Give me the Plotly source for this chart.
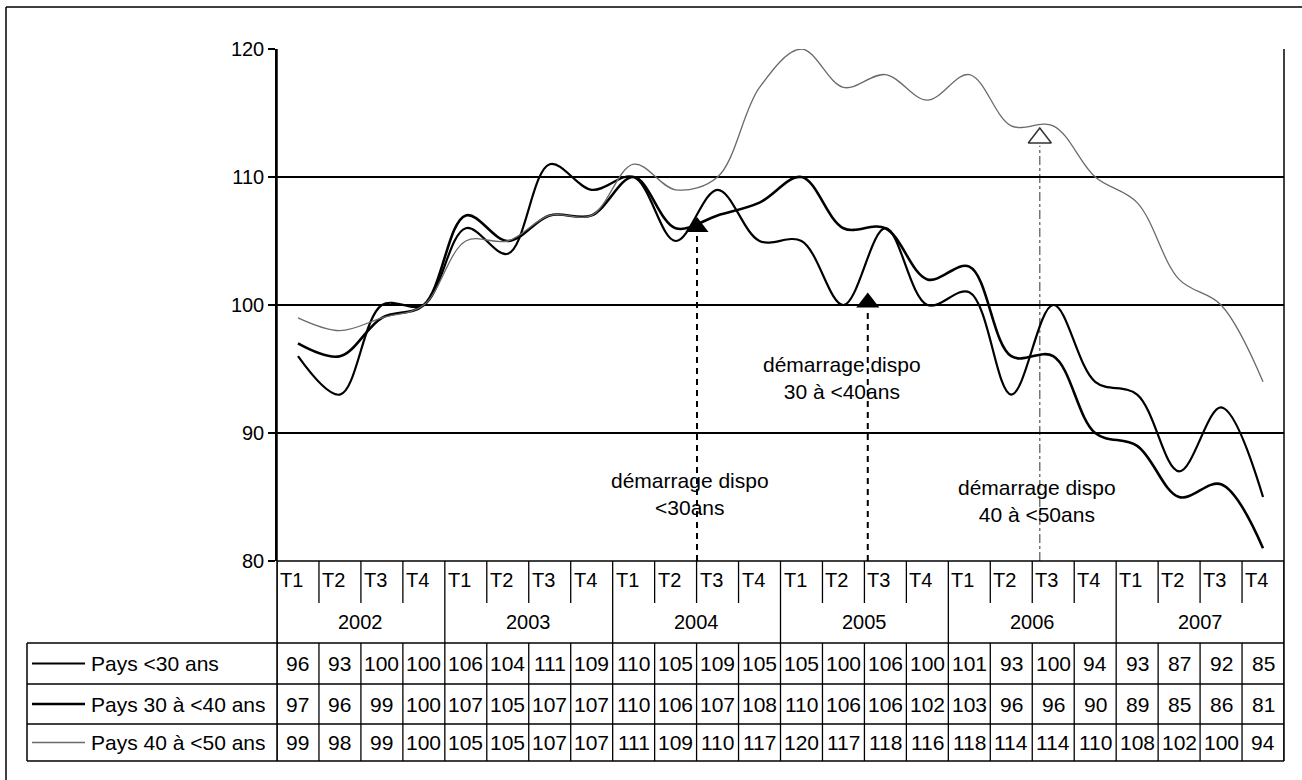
import plotly.graph_objects as go

# ---------------- data ----------------
quarters = ["T1", "T2", "T3", "T4"] * 6
years = ["2002", "2003", "2004", "2005", "2006", "2007"]
series_names = ["Pays <30 ans", "Pays 30 à <40 ans", "Pays 40 à <50 ans"]
under30 = [96, 93, 100, 100, 106, 104, 111, 109, 110, 105, 109, 105,
           105, 100, 106, 100, 101, 93, 100, 94, 93, 87, 92, 85]
age30_40 = [97, 96, 99, 100, 107, 105, 107, 107, 110, 106, 107, 108,
            110, 106, 106, 102, 103, 96, 96, 90, 89, 85, 86, 81]
age40_50 = [99, 98, 99, 100, 105, 105, 107, 107, 111, 109, 110, 117,
            120, 117, 118, 116, 118, 114, 114, 110, 108, 102, 100, 94]
y_ticks = [80, 90, 100, 110, 120]

# annotation markers (category position, value)
arrow_x = [9.51, 13.58, 17.68]
arrow_y = [106.1, 100.2, 113.05]
arrow_text = ["démarrage dispo<br><30ans",
              "démarrage dispo<br>30 à <40ans",
              "démarrage dispo<br>40 à <50ans"]

# ---------------- layout helpers ----------------
W, H = 1302, 780
PL, PR, PT, PB = 277, 1284, 49, 561          # plot area in pixels
FONT = "Liberation Sans, Arial, sans-serif"


def px(x):
    return x / W


def py(y):
    return 1 - y / H


values = [under30, age30_40, age40_50]
styles = [dict(color="black", width=2.2),
          dict(color="black", width=2.6),
          dict(color="#6a6a6a", width=1.3)]

fig = go.Figure()
idx = list(range(len(quarters)))
for name, vals, st in zip(series_names, values, styles):
    fig.add_trace(go.Scatter(
        x=idx, y=vals, mode="lines", name=name,
        line=dict(color=st["color"], width=st["width"], shape="spline", smoothing=1.0),
        showlegend=False, hoverinfo="skip"))

shapes = []
annotations = []

# dashed guide lines from axis to markers
dash_styles = [dict(color="black", width=2, dash="6px,5px"),
               dict(color="black", width=2, dash="6px,5px"),
               dict(color="#555555", width=1.2, dash="dashdot")]
for ax_, ay_, ds in zip(arrow_x, arrow_y, dash_styles):
    shapes.append(dict(type="line", xref="x", yref="y", x0=ax_, x1=ax_,
                       y0=80, y1=ay_ - 0.6, line=ds, layer="below"))

fig.add_trace(go.Scatter(
    x=arrow_x[:2], y=arrow_y[:2], mode="markers",
    marker=dict(symbol="triangle-up", size=20, color="black"),
    showlegend=False, hoverinfo="skip"))
fig.add_trace(go.Scatter(
    x=arrow_x[2:], y=arrow_y[2:], mode="markers",
    marker=dict(symbol="triangle-up-open", size=20, color="#333333",
                line=dict(width=1.5, color="#333333")),
    showlegend=False, hoverinfo="skip"))

# annotation texts (pixel centers)
text_pos = [(690, 494), (842, 378), (1037, 501)]
for t, (tx, ty) in zip(arrow_text, text_pos):
    annotations.append(dict(text=t, xref="paper", yref="paper", x=px(tx), y=py(ty),
                            xanchor="center", yanchor="middle", showarrow=False,
                            align="center", font=dict(family=FONT, size=21, color="black")))

# plot frame: right edge, bottom axis, left axis
shapes.append(dict(type="line", xref="paper", yref="paper", x0=px(PR), x1=px(PR),
                   y0=py(PT), y1=py(761), line=dict(color="black", width=1.5)))
shapes.append(dict(type="line", xref="paper", yref="paper", x0=px(PL), x1=px(PR),
                   y0=py(PB), y1=py(PB), line=dict(color="black", width=1.5)))
shapes.append(dict(type="line", xref="paper", yref="paper", x0=px(PL), x1=px(PL),
                   y0=py(PT), y1=py(761), line=dict(color="black", width=1.5)))

# category axis table: quarter separators and year separators
n = len(quarters)
for i in range(n + 1):
    xb = i - 0.5
    y_bot = 761 if i % 4 == 0 else 603
    shapes.append(dict(type="line", xref="x", yref="paper", x0=xb, x1=xb,
                       y0=py(PB), y1=py(y_bot), line=dict(color="black", width=1.3)))
    if i % 4 != 0:
        shapes.append(dict(type="line", xref="x", yref="paper", x0=xb, x1=xb,
                           y0=py(643), y1=py(761), line=dict(color="black", width=1.3)))

for i, q in enumerate(quarters):
    annotations.append(dict(text=q, xref="x", yref="paper", x=i - 0.5, y=py(580),
                            xanchor="left", yanchor="middle", xshift=1, showarrow=False,
                            font=dict(family=FONT, size=20, color="black")))
for k, yr in enumerate(years):
    annotations.append(dict(text=yr, xref="x", yref="paper", x=4 * k + 1.5, y=py(622),
                            xanchor="center", yanchor="middle", showarrow=False,
                            font=dict(family=FONT, size=20, color="black")))

# data table rows
row_lines = [643, 684, 724, 761]
for yl in row_lines:
    shapes.append(dict(type="line", xref="paper", yref="paper", x0=px(27), x1=px(PR),
                       y0=py(yl), y1=py(yl), line=dict(color="black", width=1.5)))
shapes.append(dict(type="line", xref="paper", yref="paper", x0=px(27), x1=px(27),
                   y0=py(643), y1=py(761), line=dict(color="black", width=1.5)))

for r, (name, vals, st) in enumerate(zip(series_names, values, styles)):
    yc = (row_lines[r] + row_lines[r + 1]) / 2
    shapes.append(dict(type="line", xref="paper", yref="paper", x0=px(32), x1=px(85),
                       y0=py(yc), y1=py(yc),
                       line=dict(color=st["color"], width=st["width"])))
    annotations.append(dict(text=name, xref="paper", yref="paper", x=px(89), y=py(yc),
                            xanchor="left", yanchor="middle", showarrow=False,
                            font=dict(family=FONT, size=21, color="black")))
    for i, v in enumerate(vals):
        annotations.append(dict(text=str(v), xref="x", yref="paper", x=i, y=py(yc),
                                xanchor="center", yanchor="middle", showarrow=False,
                                font=dict(family=FONT, size=21, color="black")))

# outer chart frame (top and left edges)
shapes.append(dict(type="line", xref="paper", yref="paper", x0=px(6), x1=1,
                   y0=py(7), y1=py(7), line=dict(color="black", width=1.5)))
shapes.append(dict(type="line", xref="paper", yref="paper", x0=px(6), x1=px(6),
                   y0=py(7), y1=0, line=dict(color="black", width=1.5)))

fig.update_layout(
    template="none",
    width=W, height=H, autosize=False,
    margin=dict(l=0, r=0, t=0, b=0, pad=0, autoexpand=False),
    paper_bgcolor="white", plot_bgcolor="white",
    shapes=shapes, annotations=annotations,
    xaxis=dict(domain=[px(PL), px(PR)], range=[-0.5, n - 0.5], showticklabels=False,
               showgrid=False, zeroline=False, showline=False, ticks="",
               automargin=False, fixedrange=True),
    yaxis=dict(domain=[py(PB), py(PT)], range=[80, 120], tickvals=y_ticks,
               ticks="outside", ticklen=7, tickwidth=1.5, tickcolor="black",
               showgrid=True, gridcolor="black", gridwidth=1.5, zeroline=False,
               showline=True, linecolor="black", linewidth=1.5, automargin=False,
               tickfont=dict(family=FONT, size=20, color="black"), fixedrange=True),
)

fig.write_html("out.html")
